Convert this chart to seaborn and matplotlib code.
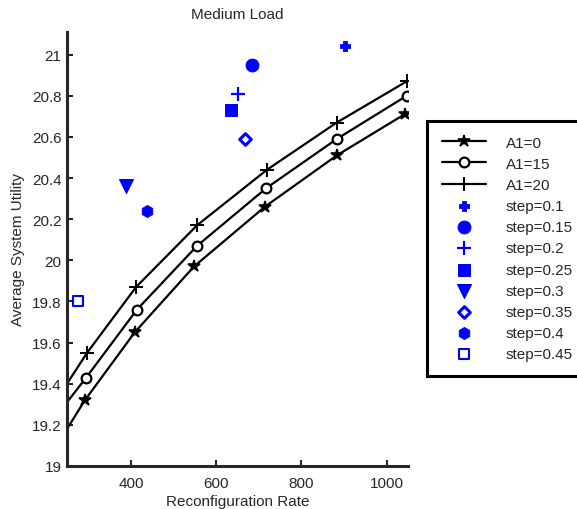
import seaborn as sns
import matplotlib
matplotlib.use("Agg")
import matplotlib.pyplot as plt

# curves: first point is where the line enters the axes (no marker there)
rate_a0 = [250, 292, 409, 548, 714, 883, 1042]
util_a0 = [19.18, 19.32, 19.65, 19.97, 20.26, 20.51, 20.71]
rate_a15 = [250, 295, 414, 555, 717, 883, 1047]
util_a15 = [19.31, 19.43, 19.76, 20.07, 20.35, 20.59, 20.80]
rate_a20 = [250, 297, 412, 555, 719, 883, 1047]
util_a20 = [19.40, 19.55, 19.87, 20.17, 20.44, 20.67, 20.87]

step_labels = ["step=0.1", "step=0.15", "step=0.2", "step=0.25",
               "step=0.3", "step=0.35", "step=0.4", "step=0.45"]
step_rate = [902, 684, 651, 635, 388, 667, 438, 276]
step_util = [21.04, 20.95, 20.81, 20.73, 20.36, 20.59, 20.24, 19.80]

xticks = [400, 600, 800, 1000]
yticks = [19, 19.2, 19.4, 19.6, 19.8, 20, 20.2, 20.4, 20.6, 20.8, 21]

sns.set_style("ticks")
plt.rcParams['font.family'] = ['Liberation Sans', 'DejaVu Sans']

fig = plt.figure(figsize=(5.77, 5.10), dpi=100)
ax = fig.add_axes([67 / 577, 1 - 467 / 510, (408 - 67) / 577, (467 - 33) / 510])

curve_style = dict(color="black", linewidth=1.6, markevery=list(range(1, 7)),
                   sort=False, estimator=None)
sns.lineplot(x=rate_a0, y=util_a0, marker="*", markersize=9, markeredgewidth=1.2,
             markerfacecolor="black", markeredgecolor="black", label="A1=0", ax=ax, **curve_style)
sns.lineplot(x=rate_a15, y=util_a15, marker="o", markersize=7, markeredgewidth=1.6,
             markerfacecolor="white", markeredgecolor="black", label="A1=15", ax=ax, **curve_style)
sns.lineplot(x=rate_a20, y=util_a20, marker="+", markersize=10, markeredgewidth=1.4,
             markeredgecolor="black", label="A1=20", ax=ax, **curve_style)

blue = "#0000ff"
point_styles = [
    dict(marker="P", s=60, color=blue, edgecolor=blue),
    dict(marker="o", s=85, color=blue, edgecolor=blue),
    dict(marker="+", s=90, color=blue, linewidth=1.6),
    dict(marker="s", s=75, color=blue, edgecolor=blue),
    dict(marker="v", s=100, color=blue, edgecolor=blue),
    dict(marker="D", s=35, facecolor="white", edgecolor=blue, linewidth=2.2),
    dict(marker="h", s=75, color=blue, edgecolor=blue),
    dict(marker="s", s=50, facecolor="white", edgecolor=blue, linewidth=1.5),
]
for lab, xr, yu, st in zip(step_labels, step_rate, step_util, point_styles):
    sns.scatterplot(x=[xr], y=[yu], label=lab, ax=ax, zorder=3, **st)

ax.set_xlim(250, 1050)
ax.set_ylim(19, 21.11)
ax.set_xticks(xticks)
ax.set_yticks(yticks)
ax.set_yticklabels([f"{v:g}" for v in yticks])
ax.tick_params(direction="in", length=4, width=1.5, labelsize=11, pad=4)
ax.tick_params(axis="x", pad=7)
sns.despine(ax=ax)
for side in ["left", "bottom"]:
    ax.spines[side].set_linewidth(2.2)

ax.set_title("Medium Load", fontsize=11, pad=10)
ax.set_xlabel("Reconfiguration Rate", fontsize=11, labelpad=3)
ax.set_ylabel("Average System Utility", fontsize=11, labelpad=5)

handles, labels = ax.get_legend_handles_labels()
ax.get_legend().remove()
leg = fig.legend(handles, labels, loc="upper left",
                 bbox_to_anchor=(427 / 577, 1 - 122 / 510),
                 frameon=True, fancybox=False, fontsize=11,
                 handlelength=2.9, handletextpad=1.3, labelspacing=0.47,
                 borderpad=0.95, borderaxespad=0)
leg.get_frame().set_edgecolor("black")
leg.get_frame().set_linewidth(2.2)
leg.get_frame().set_alpha(1)

fig.savefig("out.png", dpi=100)
